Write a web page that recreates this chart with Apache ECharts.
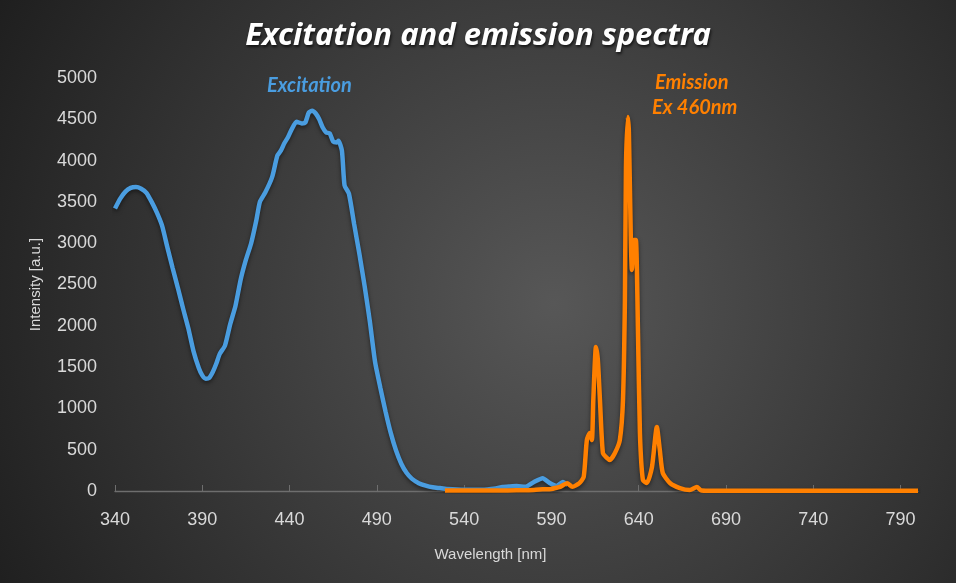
<!DOCTYPE html>
<html>
<head>
<meta charset="utf-8">
<script src="https://cdn.jsdelivr.net/npm/echarts@6/dist/echarts.min.js"></script>
<style>html,body{margin:0;padding:0;background:#222;}#c{width:956px;height:583px;}</style>
</head>
<body>
<div id="c"></div>
<script>
// Excitation spectrum
const excWavelength = [340,343,346,349,352,355,358,361,364,367,370,373,376,379,382,385,388,390,392,394,396,398,400,403,406,409,412,415,418,421,423,426,430,433,435,437,439,441,444,447,449,451,453,455,457,459,461,463,465,467,468,470,471.5,474,477,480,483,486,489,492,495,498,501,504,507,510,514,518,522,526,530,540,550,558,562,566,570,575,580,585,589,593,596.5,599.5];
const excIntensity = [3420,3540,3625,3670,3680,3660,3610,3500,3370,3210,2950,2700,2460,2210,1970,1690,1490,1400,1360,1370,1440,1540,1660,1760,2020,2240,2560,2800,3000,3280,3500,3610,3800,4060,4120,4210,4280,4370,4470,4450,4460,4580,4605,4570,4500,4400,4340,4330,4230,4220,4240,4120,3700,3600,3230,2870,2480,2050,1560,1250,960,700,490,330,220,150,95,65,45,35,25,15,15,30,48,55,60,50,110,155,97,60,110,70];
// Emission spectrum (Ex 460 nm)
const emWavelength = [529,540,550,560,570,580,585,590,593,595,599,602,606,608.5,610.3,612,613.2,614,615.5,616.6,617.8,619.5,621.8,623.5,626.4,629.2,631,632.1,632.7,633.8,634.4,635.5,636.1,637.3,638.4,639.6,640.7,642.4,644.7,647.6,650.4,652.1,653.8,657.9,663.6,669.3,673.3,676,680,700,720,740,760,780,800];
const emIntensity = [5,5,5,5,8,12,20,25,40,50,95,50,95,170,617,702,617,1102,1743,1586,1102,460,400,375,460,617,1102,2312,3923,4528,4334,3039,2676,3039,3039,1913,702,133,97,290,775,496,218,97,36,12,48,5,3,3,3,3,3,3,3];
// Axis
const xTicks = [340,390,440,490,540,590,640,690,740,790];
const yMin = 0, yMax = 5000, yStep = 500;

const chart = echarts.init(document.getElementById('c'));
const labelColor = '#d9d9d9';
const font = 'Liberation Sans, Arial, sans-serif';
const titleFont = '"Noto Sans", Lato, sans-serif';
const tagFont = 'Lato, "Open Sans", sans-serif';

chart.setOption({
  backgroundColor: {
    type: 'radial', x: 0.58, y: 0.52, r: 1.1,
    colorStops: [{offset: 0, color: '#575757'}, {offset: 1, color: '#1e1e1e'}]
  },
  animation: false,
  title: {
    text: 'Excitation and emission spectra',
    left: 'center', top: 16,
    textStyle: {
      color: '#ffffff', fontSize: 31, fontWeight: 'bold', fontStyle: 'italic',
      fontFamily: titleFont,
      textShadowColor: 'rgba(0,0,0,0.7)', textShadowBlur: 3, textShadowOffsetX: 1, textShadowOffsetY: 2
    }
  },
  graphic: [
    {type: 'text', left: 267, top: 76, style: {text: 'Excitation', fill: '#4a9de0', font: 'italic bold 20px ' + tagFont}},
    {type: 'text', left: 655, top: 73, style: {text: 'Emission', fill: '#ff8000', font: 'italic bold 20px ' + tagFont}},
    {type: 'text', left: 652, top: 98, style: {text: 'Ex 460nm', fill: '#ff8000', font: 'italic bold 20px ' + tagFont}}
  ],
  grid: {left: 115, right: 38, top: 78, bottom: 92, containLabel: false},
  xAxis: {
    type: 'value', min: 340, max: 800,
    name: 'Wavelength [nm]', nameLocation: 'middle', nameGap: 56,
    nameTextStyle: {color: labelColor, fontSize: 15, fontFamily: font, padding: [0, 52, 0, 0]},
    splitLine: {show: false},
    axisLine: {show: true, lineStyle: {color: '#6e6e6e', width: 1.3}},
    axisTick: {show: true, inside: true, length: 6, customValues: xTicks, lineStyle: {color: '#6e6e6e'}},
    axisLabel: {customValues: xTicks, color: labelColor, fontSize: 18, fontFamily: font, margin: 20}
  },
  yAxis: {
    type: 'value', min: yMin, max: yMax, interval: yStep,
    name: 'Intensity [a.u.]', nameLocation: 'middle', nameGap: 72,
    nameTextStyle: {color: labelColor, fontSize: 15, fontFamily: font},
    splitLine: {show: false},
    axisLine: {show: false},
    axisTick: {show: false},
    axisLabel: {color: labelColor, fontSize: 18, fontFamily: font, margin: 18, formatter: v => String(v)}
  },
  series: [
    {
      name: 'Excitation', type: 'line', showSymbol: false, smooth: 0.2,
      data: excWavelength.map((w, i) => [w, excIntensity[i]]),
      lineStyle: {color: '#4a9de0', width: 4.5, shadowColor: 'rgba(0,0,0,0.5)', shadowBlur: 4, shadowOffsetY: 2},
      z: 2
    },
    {
      name: 'Emission Ex 460nm', type: 'line', showSymbol: false, smooth: 0.2,
      data: emWavelength.map((w, i) => [w, emIntensity[i]]),
      lineStyle: {color: '#ff8000', width: 4.5, shadowColor: 'rgba(0,0,0,0.5)', shadowBlur: 4, shadowOffsetY: 2},
      z: 3
    }
  ]
});
</script>
</body>
</html>
